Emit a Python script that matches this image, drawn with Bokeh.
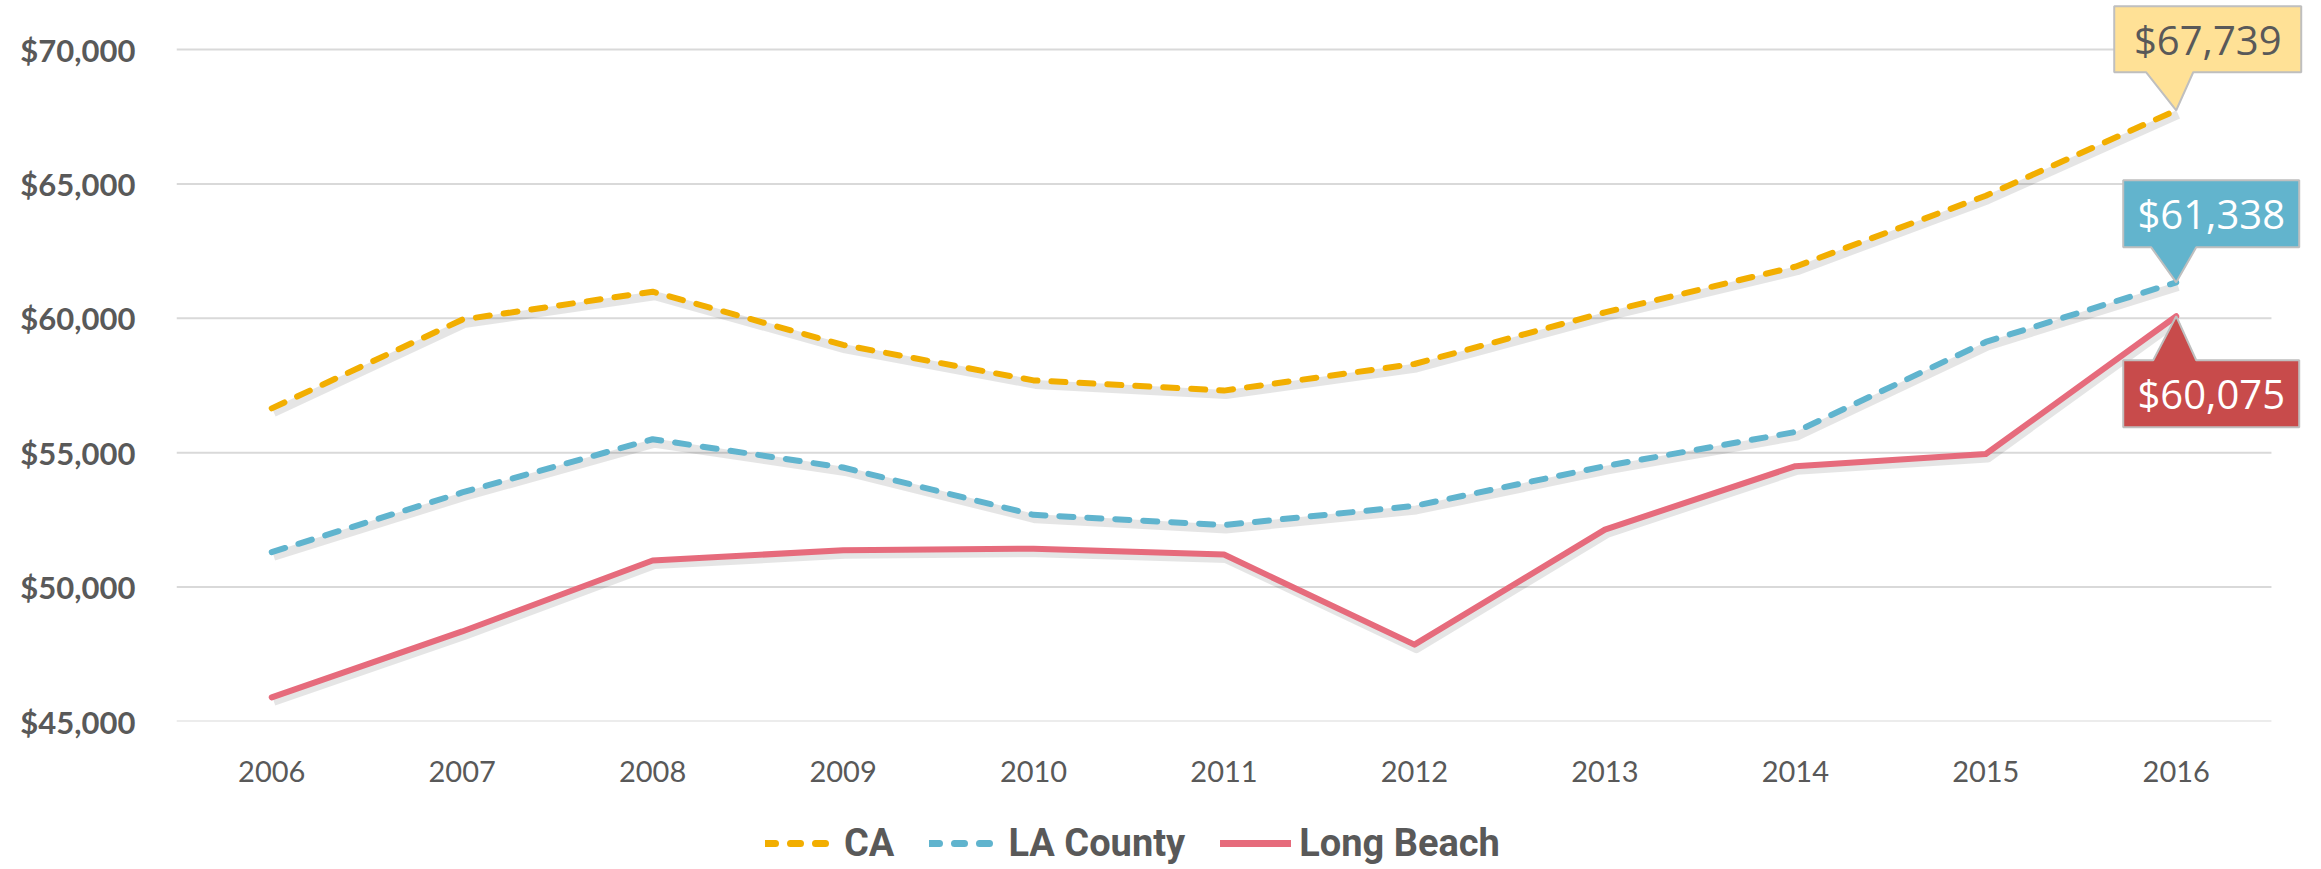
from bokeh.plotting import figure
from bokeh.layouts import column
from bokeh.models import (Range1d, FixedTicker, NumeralTickFormatter, Legend, LegendItem)
from bokeh.core.properties import value
from bokeh.embed import file_html
from bokeh.resources import INLINE

# ---------------- data ----------------
years = ["2006", "2007", "2008", "2009", "2010", "2011", "2012", "2013", "2014", "2015", "2016"]
ca = [56650, 59950, 60990, 59010, 57690, 57310, 58300, 60220, 61920, 64560, 67739]
la_county = [51300, 53520, 55500, 54450, 52690, 52310, 53020, 54500, 55770, 59120, 61338]
long_beach = [45900, 48350, 50990, 51370, 51430, 51210, 47860, 52140, 54500, 54950, 60075]
y_ticks = [45000, 50000, 55000, 60000, 65000, 70000]
series_names = ["CA", "LA County", "Long Beach"]

# ---------------- geometry ----------------
W = 2305
LEFT = 176
FRAME_H = 721
AXIS_H = 70
LEG_H = 74
frame_w = W - LEFT
X_PX = 190.45                      # px per category
Y_PX = 0.02688                     # px per dollar
x0 = -0.5
x1 = x0 + frame_w / X_PX
y0 = 45000
y1 = y0 + FRAME_H / Y_PX

GRID = "#D9D9D9"
TXT = "#595959"
C_CA = "#F2AE00"
C_LA = "#60B4CE"
C_LB = "#E66B7C"
DASH = "14 14"
LW = 6

p = figure(width=W, height=FRAME_H + AXIS_H, output_backend="svg", toolbar_location=None,
           x_range=Range1d(x0, x1), y_range=Range1d(y0, y1),
           min_border_left=LEFT, min_border_right=0, min_border_top=0,
           min_border_bottom=AXIS_H)
p.outline_line_color = None
p.xgrid.visible = False
p.ygrid.visible = False

xs = list(range(len(years)))

# gridlines drawn from tick values, across the category span only
p.segment(x0=[x0] * len(y_ticks), x1=[len(years) - 0.5] * len(y_ticks),
          y0=y_ticks, y1=y_ticks, line_color=GRID, line_width=2)

# axes
p.xaxis.ticker = FixedTicker(ticks=xs)
p.xaxis.major_label_overrides = {i: y for i, y in enumerate(years)}
p.xaxis.axis_line_color = None
p.xaxis.major_tick_line_color = None
p.xaxis.minor_tick_line_color = None
p.xaxis.major_label_standoff = 33
p.xaxis.major_label_text_font = "Lato"
p.xaxis.major_label_text_font_size = "29px"
p.xaxis.major_label_text_color = TXT

p.yaxis.ticker = FixedTicker(ticks=y_ticks)
p.yaxis.formatter = NumeralTickFormatter(format="$0,0")
p.yaxis.axis_line_color = None
p.yaxis.major_tick_line_color = None
p.yaxis.minor_tick_line_color = None
p.yaxis.major_label_standoff = 35
p.yaxis.major_label_text_font = "Lato"
p.yaxis.major_label_text_font_style = "bold"
p.yaxis.major_label_text_font_size = "31px"
p.yaxis.major_label_text_color = TXT

# soft shadows under lines
sdx = 2 / X_PX
sdy = 4 / Y_PX
for vals in (ca, la_county, long_beach):
    p.line([x + sdx for x in xs], [v - sdy for v in vals], line_color="#000000",
           line_alpha=0.10, line_width=9, line_join="round")

p.line(xs, ca, line_color=C_CA, line_width=LW, line_dash=DASH, line_cap="round")
p.line(xs, la_county, line_color=C_LA, line_width=LW, line_dash=DASH, line_cap="round")
p.line(xs, long_beach, line_color=C_LB, line_width=LW, line_join="round", line_cap="round")

# ---------------- callouts ----------------
def callout(xi, yv, bx0, bx1, by0, by1, px0, px1, fill, txt_color, label):
    # pixel offsets relative to the point (screen y down positive)
    def pt(dx, dy):
        return xi + dx / X_PX, yv - dy / Y_PX
    if by1 < 0:   # box above, pointer down
        pts = [pt(bx0, by0), pt(bx1, by0), pt(bx1, by1), pt(px1, by1), pt(0, 0),
               pt(px0, by1), pt(bx0, by1)]
    else:         # box below, pointer up
        pts = [pt(bx0, by1), pt(bx1, by1), pt(bx1, by0), pt(px1, by0), pt(0, 0),
               pt(px0, by0), pt(bx0, by0)]
    p.patch([q[0] for q in pts], [q[1] for q in pts], fill_color=fill,
            line_color="#BFBFBF", line_width=2)
    cx, cy = pt((bx0 + bx1) / 2, (by0 + by1) / 2)
    p.text([cx], [cy], text=[label], text_align="center", text_baseline="middle",
           text_color=txt_color, text_font=value("Open Sans"), text_font_size="40px")

last = len(years) - 1
callout(last, ca[-1], -62, 125, -104, -38, -30, 17, "#FFE196", TXT, "${:,}".format(ca[-1]))
callout(last, la_county[-1], -53, 123, -102, -35, -25, 20, "#62B4CD", "white",
        "${:,}".format(la_county[-1]))
callout(last, long_beach[-1], -53, 123, 44, 111, -23, 20, "#C84B4B", "white",
        "${:,}".format(long_beach[-1]))

# ---------------- legend (own strip under the chart) ----------------
lg = figure(width=W, height=LEG_H, output_backend="svg", toolbar_location=None,
            x_range=Range1d(0, 1), y_range=Range1d(0, 1),
            min_border_left=0, min_border_right=0, min_border_top=0, min_border_bottom=0)
lg.outline_line_color = None
lg.xaxis.visible = False
lg.yaxis.visible = False
lg.xgrid.visible = False
lg.ygrid.visible = False
# off-range stand-ins so that the legend can draw each series' line style
off = [-10, -9]
g_ca = lg.line(off, off, line_color=C_CA, line_width=LW + 1, line_dash="10 15", line_cap="round")
g_la = lg.line(off, off, line_color=C_LA, line_width=LW + 1, line_dash="10 15", line_cap="round")
g_lb = lg.line(off, off, line_color=C_LB, line_width=LW + 1, line_cap="round")

legend = Legend(items=[LegendItem(label=series_names[0], renderers=[g_ca]),
                       LegendItem(label=series_names[1], renderers=[g_la]),
                       LegendItem(label=series_names[2], renderers=[g_lb])],
                orientation="horizontal", location=(765 - LEFT, 0))
legend.glyph_width = 71
legend.glyph_height = 30
legend.label_standoff = 8
legend.spacing = 35
legend.padding = 0
legend.margin = 0
legend.border_line_color = None
legend.background_fill_alpha = 0
legend.label_text_font = "Roboto"
legend.label_text_font_style = "bold"
legend.label_text_font_size = "38px"
legend.label_text_color = TXT
lg.add_layout(legend)

page = column(p, lg, spacing=0)
open("out.html", "w").write(file_html(page, INLINE))
